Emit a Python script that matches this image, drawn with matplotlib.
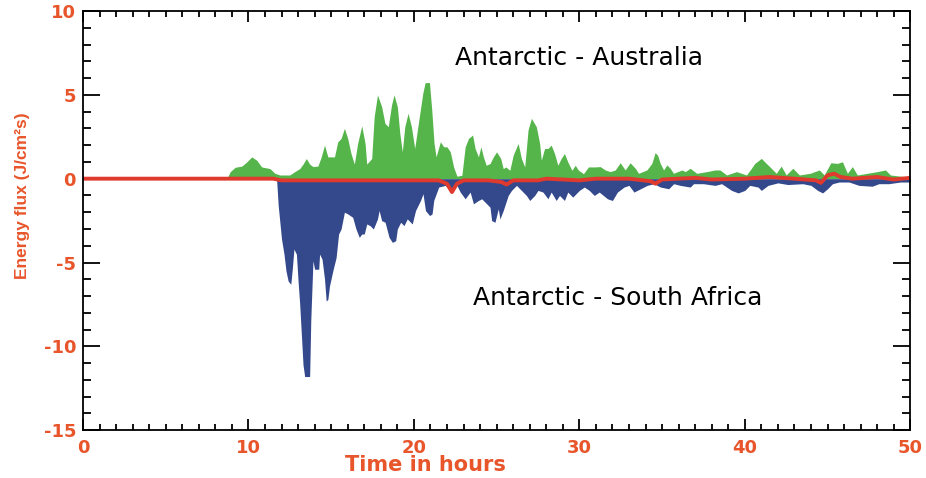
import numpy as np
import matplotlib.pyplot as plt
from matplotlib.ticker import MultipleLocator

# Antarctic - Australia (positive flux), hours / J/cm^2s
t_aus = [0, 8.7, 8.9, 9.2, 9.6, 9.9, 10.2, 10.5, 10.8, 11.3, 11.6, 11.9, 12.5, 12.8,
         13.1, 13.3, 13.5, 13.7, 13.9, 14.2, 14.4, 14.6, 14.8, 15.2, 15.4, 15.6, 15.8,
         16.0, 16.2, 16.4, 16.6, 16.85, 17.05, 17.15, 17.45, 17.6, 17.8, 18.05, 18.25,
         18.45, 18.65, 18.8, 19.0, 19.15, 19.3, 19.45, 19.65, 19.85, 20.05, 20.27, 20.54,
         20.68, 20.94, 21.08, 21.22, 21.34, 21.6, 21.8, 22.0, 22.2, 22.4, 22.6, 22.9,
         23.1, 23.3, 23.55, 23.7, 23.9, 24.05, 24.2, 24.37, 24.6, 24.8, 25.0, 25.25,
         25.4, 25.56, 25.8, 26.0, 26.3, 26.5, 26.7, 26.9, 27.1, 27.4, 27.6, 27.7, 27.9,
         28.1, 28.3, 28.5, 28.7, 28.9, 29.1, 29.3, 29.55, 29.75, 29.95, 30.25, 30.55,
         30.95, 31.26, 31.56, 31.86, 32.17, 32.47, 32.77, 33.07, 33.38, 33.58, 34.08,
         34.38, 34.58, 34.73, 34.89, 35.09, 35.29, 35.49, 35.69, 36.2, 36.4, 36.7, 37.1,
         37.7, 38.2, 38.5, 38.9, 39.5, 40.1, 40.4, 40.6, 41.0, 41.3, 41.5, 41.9, 42.2,
         42.5, 42.9, 43.3, 43.95, 44.5, 44.8, 45.2, 45.6, 45.9, 46.2, 46.5, 46.8, 47.4,
         48.0, 48.5, 48.8, 49.4, 49.8, 50]
v_aus = [0, 0, 0.42, 0.68, 0.75, 1.0, 1.3, 1.1, 0.7, 0.6, 0.32, 0.22, 0.22, 0.42,
         0.6, 0.87, 1.2, 0.87, 0.72, 0.75, 1.3, 2.0, 1.3, 1.3, 2.2, 2.4, 3.0,
         2.4, 1.5, 0.87, 2.1, 3.15, 2.1, 0.87, 1.2, 3.7, 5.0, 4.3, 3.3,
         3.1, 4.4, 5.0, 4.3, 2.7, 1.6, 3.1, 3.9, 3.1, 1.8, 3.3, 5.1,
         5.73, 5.73, 4.1, 2.1, 1.3, 2.2, 1.9, 1.9, 1.6, 0.7, 0.15, 0.2,
         1.9, 2.4, 2.6, 1.8, 1.3, 1.9, 1.3, 0.8, 0.9, 1.3, 1.6, 1.2,
         0.6, 0.7, 0.5, 1.4, 2.1, 1.2, 0.7, 2.9, 3.6, 3.1, 2.1, 1.1, 1.8,
         1.8, 2.0, 1.5, 0.8, 1.2, 1.5, 1.0, 0.5, 0.8, 0.5, 0.3, 0.7,
         0.7, 0.72, 0.52, 0.42, 0.52, 0.95, 0.52, 0.95, 0.62, 0.32, 0.52,
         0.91, 1.55, 1.4, 0.91, 0.52, 0.82, 0.62, 0.32, 0.52, 0.42, 0.62, 0.32,
         0.42, 0.52, 0.52, 0.22, 0.42, 0.22, 0.62, 0.91, 1.21, 0.91, 0.72, 0.32, 0.75,
         0.22, 0.62, 0.22, 0.32, 0.52, 0.22, 0.95, 0.91, 1.01, 0.32, 0.72, 0.22, 0.32,
         0.42, 0.52, 0.22, 0.15, 0.12, 0.1]

# Antarctic - South Africa (negative flux)
t_saf = [0, 11.7, 11.8, 12.0, 12.15, 12.27, 12.4, 12.56, 12.65, 12.75, 12.9, 13.0,
         13.1, 13.2, 13.3, 13.4, 13.7, 13.77, 13.9, 14.0, 14.25, 14.3, 14.45, 14.6,
         14.7, 14.8, 14.9, 15.1, 15.3, 15.45, 15.6, 15.7, 15.8, 16.0, 16.3, 16.5, 16.7,
         16.85, 17.0, 17.15, 17.35, 17.55, 17.8, 17.9, 18.05, 18.26, 18.5, 18.7, 18.9,
         19.0, 19.2, 19.4, 19.6, 19.9, 20.1, 20.4, 20.55, 20.7, 20.95, 21.1, 21.2,
         21.5, 21.9, 22.3, 22.6, 22.8, 23.1, 23.4, 23.6, 23.9, 24.1, 24.4, 24.6, 24.7,
         24.9, 25.1, 25.2, 25.4, 25.7, 25.9, 26.2, 26.5, 26.8, 27.0, 27.3, 27.5, 27.8,
         28.1, 28.3, 28.6, 28.8, 29.1, 29.3, 29.6, 30.0, 30.3, 30.6, 30.9, 31.2, 31.7,
         32.0, 32.3, 32.7, 33.0, 33.3, 33.7, 34.1, 34.5, 34.9, 35.4, 35.7, 36.1, 36.7,
         36.9, 37.5, 38.2, 38.6, 39.2, 39.6, 40.0, 40.3, 40.8, 41.0, 41.4, 42.0, 42.6,
         43.5, 44.0, 44.4, 44.7, 45.0, 45.3, 45.7, 46.3, 46.9, 47.7, 48.1, 48.7, 49.4, 50]
v_saf = [0, 0, -1.6, -3.6, -4.5, -5.5, -6.1, -6.3, -5.4, -4.2, -4.5, -6.1,
         -7.5, -9.3, -11.1, -11.8, -11.8, -8.4, -4.9, -5.4, -5.4, -4.5, -4.8, -6.0,
         -7.3, -7.2, -6.4, -5.5, -4.7, -3.3, -3.0, -2.5, -2.0, -2.1, -2.3, -3.0, -3.5,
         -3.3, -3.3, -2.7, -2.8, -3.0, -2.4, -1.9, -2.5, -2.6, -3.5, -3.8, -3.7,
         -3.0, -2.6, -2.8, -2.4, -2.7, -1.9, -1.3, -0.9, -1.9, -2.2, -2.1, -1.3,
         -0.5, -0.4, -0.8, -0.4, -0.8, -1.2, -0.8, -1.5, -1.3, -1.2, -1.5, -1.7, -2.5,
         -2.6, -1.8, -2.4, -1.9, -1.0, -0.7, -0.4, -0.7, -1.0, -1.3, -1.0, -0.7, -0.8,
         -1.2, -0.8, -1.3, -1.0, -1.3, -0.8, -1.1, -0.7, -0.5, -0.7, -1.0, -0.8, -1.2,
         -1.3, -0.8, -0.5, -0.4, -0.8, -0.6, -0.4, -0.3, -0.5, -0.6, -0.3, -0.4, -0.5,
         -0.3, -0.3, -0.4, -0.3, -0.7, -0.85, -0.7, -0.4, -0.5, -0.7, -0.4, -0.25, -0.35,
         -0.3, -0.4, -0.7, -0.85, -0.6, -0.3, -0.2, -0.2, -0.4, -0.45, -0.3, -0.3, -0.2, -0.2]

# red curve near zero
t_red = [0, 11.5, 12, 21.5, 22.0, 22.3, 22.6, 23.0, 24.5, 25.3, 25.6, 26.0, 27.5, 28,
         30, 31, 33, 34.3, 34.6, 35, 37, 38, 40, 41.5, 43, 44.3, 44.6, 45.0, 45.4,
         45.8, 46.5, 48, 49, 50]
v_red = [0, 0, -0.1, -0.1, -0.3, -0.8, -0.3, -0.1, -0.1, -0.2, -0.35, -0.1, -0.1, 0.0,
         -0.1, 0.0, 0.0, -0.15, -0.3, -0.05, 0.05, -0.05, 0.0, 0.1, 0.0, -0.1, -0.25, 0.2,
         0.3, 0.1, 0.0, 0.1, -0.05, 0.05]

ytick_vals = [-15, -10, -5, 0, 5, 10]
ytick_labels = ["-15", "-10", "-5", "0", "5", "10"]

orange = "#E8552B"

fig = plt.figure(figsize=(9.26, 4.78), dpi=100)
ax = fig.add_axes([0.0896, 0.10, 0.8934, 0.877])

ax.fill_between(t_aus, v_aus, 0, color="#55B54A", lw=0)
ax.fill_between(t_saf, v_saf, 0, color="#34498C", lw=0)
ax.plot(t_red, v_red, color="#E03A2E", lw=2.8, solid_capstyle="butt")

ax.set_xlim(0, 50)
ax.set_ylim(-15, 10)

ax.xaxis.set_major_locator(MultipleLocator(10))
ax.xaxis.set_minor_locator(MultipleLocator(1))
ax.set_yticks(ytick_vals)
ax.set_yticklabels(ytick_labels)
ax.yaxis.set_minor_locator(MultipleLocator(1))

ax.tick_params(axis="both", which="both", direction="in", top=True, right=True,
               colors="black", labelcolor=orange, width=1.3)
ax.tick_params(axis="x", which="major", length=8, pad=6)
ax.tick_params(axis="x", which="minor", length=4)
ax.tick_params(axis="y", which="major", length=12, pad=5)
ax.tick_params(axis="y", which="minor", length=5.5)
for lab in ax.get_xticklabels() + ax.get_yticklabels():
    lab.set_fontweight("bold")
    lab.set_fontsize(13)
for sp in ax.spines.values():
    sp.set_linewidth(1.3)

ax.set_xlabel("Time in hours", color=orange, fontsize=15, fontweight="bold")
ax.xaxis.set_label_coords(0.414, -0.06)
ax.set_ylabel("Energy flux (J/cm²s)", color=orange, fontsize=12.5, fontweight="bold",
              family=["Liberation Sans", "DejaVu Sans"])
ax.yaxis.set_label_coords(-0.064, 0.56)

ax.text(30.0, 7.2, "Antarctic - Australia", fontsize=18, ha="center", va="center")
ax.text(32.3, -7.1, "Antarctic - South Africa", fontsize=18, ha="center", va="center")

plt.savefig("out.png", dpi=100)
